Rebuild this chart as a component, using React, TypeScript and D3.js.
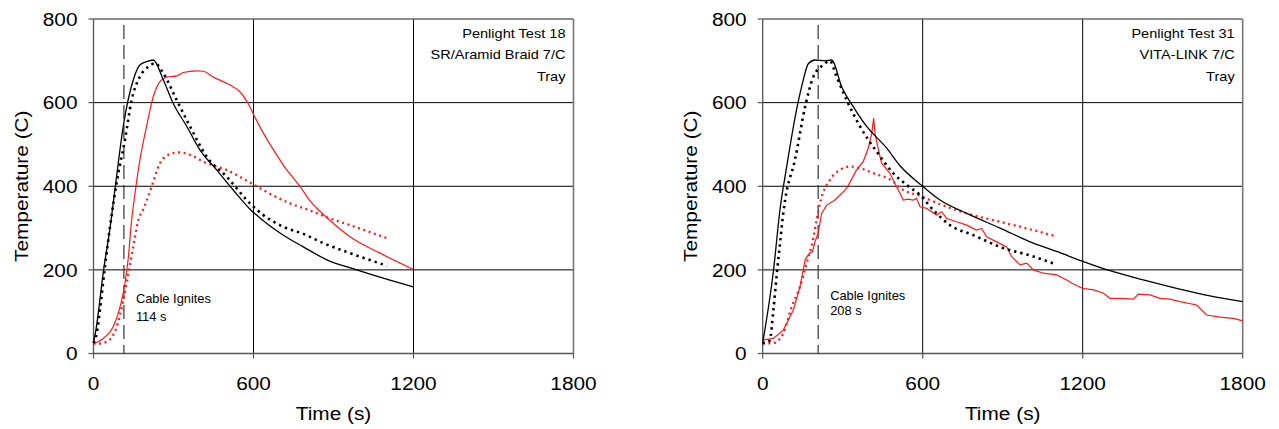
import React from "react";
import * as d3 from "d3";

// ---------- data (time s, temperature C) ----------
const xTicks = [0, 600, 1200, 1800];
const yTicks = [0, 200, 400, 600, 800];

const leftTitle = ["Penlight Test 18", "SR/Aramid Braid 7/C", "Tray"];
const rightTitle = ["Penlight Test 31", "VITA-LINK 7/C", "Tray"];
const leftIgnite = 114;
const rightIgnite = 208;

const t18BlackSolid: [number, number][] = [
  [0, 25], [10, 60], [37, 196], [62, 300], [80, 390], [112, 545], [149, 654], [174, 690],
  [199, 698], [224, 702], [262, 654], [299, 598], [350, 543], [399, 487], [462, 439],
  [524, 391], [587, 345], [650, 311], [712, 283], [787, 255], [875, 224], [987, 200],
  [1087, 180], [1200, 159],
];
const t18BlackDotted: [number, number][] = [
  [0, 25], [12, 48], [24, 104], [43, 208], [62, 303], [90, 420], [118, 511], [143, 606],
  [174, 662], [206, 686], [231, 694], [262, 670], [312, 606], [362, 543], [424, 471],
  [499, 423], [587, 359], [637, 331], [712, 303], [787, 286], [862, 264], [962, 240],
  [1100, 210],
];
const t18RedSolid: [number, number][] = [
  [0, 24], [37, 36], [74, 64], [106, 128], [118, 168], [131, 232], [143, 319], [149, 350],
  [174, 463], [199, 543], [224, 614], [249, 650], [274, 661], [312, 664], [337, 672],
  [387, 676], [412, 675], [449, 661], [512, 642], [549, 626], [580, 598], [600, 572],
  [637, 527], [662, 500], [687, 475], [712, 450], [749, 420], [774, 400], [812, 365],
  [837, 348], [887, 318], [962, 279], [1074, 240], [1200, 201],
];
const t18RedDotted: [number, number][] = [
  [0, 24], [12, 23], [49, 28], [87, 64], [112, 128], [131, 192], [149, 255], [168, 319],
  [187, 345], [199, 365], [218, 399], [249, 455], [287, 477], [324, 481], [362, 475],
  [424, 455], [499, 439], [587, 409], [662, 382], [737, 359], [812, 342], [887, 323],
  [962, 307], [1100, 276],
];

const t31BlackSolid: [number, number][] = [
  [0, 25], [40, 196], [65, 345], [90, 447], [127, 583], [152, 654], [171, 693], [196, 702],
  [234, 700], [259, 702], [296, 638], [340, 590], [390, 543], [465, 491], [515, 449],
  [598, 401], [665, 367], [765, 335], [890, 300], [1015, 264], [1115, 241], [1198, 221],
  [1302, 198], [1427, 176], [1552, 156], [1677, 138], [1800, 124],
];
const t31BlackDotted: [number, number][] = [
  [0, 25], [15, 25], [27, 32], [40, 104], [52, 184], [65, 264], [77, 335], [84, 367],
  [121, 463], [159, 590], [190, 662], [227, 690], [252, 700], [277, 662], [315, 606],
  [365, 543], [427, 483], [490, 431], [540, 403], [590, 379], [640, 343], [702, 307],
  [790, 283], [890, 255], [1015, 232], [1100, 213],
];
const t31RedSolid: [number, number][] = [
  [0, 32], [10, 33], [40, 36], [77, 56], [115, 104], [140, 160], [159, 224], [175, 240],
  [187, 244], [196, 267], [208, 288], [221, 335], [240, 355], [271, 367], [315, 395],
  [352, 439], [377, 459], [396, 491], [409, 527], [416, 563], [421, 527], [434, 487],
  [446, 455], [477, 431], [502, 399], [515, 383], [527, 367], [545, 369], [565, 367],
  [577, 371], [590, 351], [615, 347], [652, 331], [671, 339], [690, 323], [727, 315],
  [765, 307], [802, 295], [821, 299], [840, 279], [877, 267], [915, 255], [933, 232],
  [965, 212], [990, 216], [1015, 200], [1052, 192], [1102, 188], [1140, 176], [1160, 168],
  [1198, 156], [1241, 152], [1278, 144], [1302, 132], [1340, 132], [1390, 130], [1409, 142],
  [1452, 140], [1490, 132], [1527, 130], [1565, 124], [1627, 116], [1665, 92], [1715, 87],
  [1765, 84], [1800, 78],
];
const t31RedDotted: [number, number][] = [
  [0, 24], [40, 25], [77, 48], [109, 112], [140, 160], [165, 216], [190, 276], [202, 319],
  [215, 360], [252, 415], [290, 439], [327, 447], [365, 443], [415, 431], [490, 411],
  [515, 396], [590, 377], [690, 351], [765, 335], [890, 315], [1015, 295], [1100, 280],
];

// ---------- drawing ----------
const FONT = "'Liberation Sans', Arial, Helvetica, sans-serif";
const SX = 1.12;

type TxtProps = {
  x: number; y: number; size: number; anchor?: "start" | "middle" | "end";
  rotate?: number; stretch?: number; children: React.ReactNode; fill?: string;
};
function Txt({ x, y, size, anchor = "start", rotate = 0, stretch = SX, children, fill = "#000" }: TxtProps) {
  return (
    <g transform={`translate(${x},${y}) rotate(${rotate}) scale(${stretch},1)`}>
      <text x={0} y={0} fontSize={size} fontFamily={FONT} textAnchor={anchor} fill={fill}>
        {children}
      </text>
    </g>
  );
}

type PanelProps = {
  x0: number;
  title: string[];
  ignite: number;
  igniteLabelDy: number;
  blackSolid: [number, number][];
  blackDotted: [number, number][];
  redSolid: [number, number][];
  redDotted: [number, number][];
  redLinear: boolean;
};

function Panel({ x0, title, ignite, igniteLabelDy, blackSolid, blackDotted, redSolid, redDotted, redLinear }: PanelProps) {
  const x = d3.scaleLinear().domain([0, 1800]).range([x0, x0 + 480]);
  const y = d3.scaleLinear().domain([0, 800]).range([353.5, 19]);
  const smooth = d3.line<[number, number]>().x((d) => x(d[0])).y((d) => y(d[1])).curve(d3.curveMonotoneX);
  const lin = d3.line<[number, number]>().x((d) => x(d[0])).y((d) => y(d[1]));
  const [X0, X1] = x.range();
  const [Y0, Y1] = y.range();
  const cx = (X0 + X1) / 2;
  return (
    <g>
      {/* grid */}
      {yTicks.slice(1, -1).map((t) => (
        <line key={"gy" + t} x1={X0} x2={X1} y1={y(t)} y2={y(t)} stroke="#000" strokeWidth={1} />
      ))}
      {xTicks.slice(1, -1).map((t) => (
        <line key={"gx" + t} x1={x(t)} x2={x(t)} y1={Y1} y2={Y0} stroke="#000" strokeWidth={1} />
      ))}
      {/* frame */}
      <line x1={X0} x2={X1} y1={Y1} y2={Y1} stroke="#666" strokeWidth={1.3} />
      <line x1={X1} x2={X1} y1={Y1} y2={Y0} stroke="#777" strokeWidth={1.6} />
      <line x1={X0} x2={X0} y1={Y1} y2={Y0} stroke="#555" strokeWidth={1.3} />
      <line x1={X0} x2={X1} y1={Y0} y2={Y0} stroke="#555" strokeWidth={1.3} />
      {/* ticks */}
      {yTicks.map((t) => (
        <g key={"ty" + t}>
          <line x1={X0 - 5} x2={X0} y1={y(t)} y2={y(t)} stroke="#555" strokeWidth={1.2} />
          <Txt x={X0 - 16} y={y(t) + 6.7} size={18.6} anchor="end">{t}</Txt>
        </g>
      ))}
      {xTicks.map((t) => (
        <g key={"tx" + t}>
          <line x1={x(t)} x2={x(t)} y1={Y0} y2={Y0 + 5} stroke="#555" strokeWidth={1.2} />
          <Txt x={x(t)} y={390} size={18.6} anchor="middle">{t}</Txt>
        </g>
      ))}
      {/* axis titles */}
      <Txt x={cx} y={420} size={18.6} anchor="middle">Time (s)</Txt>
      <Txt x={X0 - 66} y={(Y0 + Y1) / 2} size={18.6} anchor="middle" rotate={-90}>Temperature (C)</Txt>
      {/* ignition line */}
      <line x1={x(ignite)} x2={x(ignite)} y1={25} y2={Y0} stroke="#333" strokeWidth={1.2} strokeDasharray="14 6" />
      <Txt x={x(ignite) + 12} y={300 + igniteLabelDy} size={12.5} stretch={1.03}>Cable Ignites</Txt>
      <Txt x={x(ignite) + 12} y={315 + igniteLabelDy * 2} size={12.5} stretch={1.03}>{`${ignite} s`}</Txt>
      {/* legend text */}
      {title.map((s, i) => (
        <Txt key={s} x={X1 - 8} y={37.7 + i * 21.7} size={13} anchor="end">{s}</Txt>
      ))}
      {/* series */}
      <path d={smooth(redDotted) || ""} fill="none" stroke="#ff1a1a" strokeWidth={2.3} strokeDasharray="2 3.6" />
      <path d={(redLinear ? lin(redSolid) : smooth(redSolid)) || ""} fill="none" stroke="#ff1a1a" strokeWidth={1.2} />
      <path d={smooth(blackDotted) || ""} fill="none" stroke="#000" strokeWidth={2.6} strokeDasharray="2.4 4" />
      <path d={smooth(blackSolid) || ""} fill="none" stroke="#000" strokeWidth={1.3} />
    </g>
  );
}

export default function App() {
  return (
    <svg width={1279} height={429} style={{ position: "absolute", left: 0, top: 0, background: "#fff" }}>
      <rect width={1279} height={429} fill="#fff" />
      <Panel x0={93.5} title={leftTitle} ignite={leftIgnite} igniteLabelDy={3}
        blackSolid={t18BlackSolid} blackDotted={t18BlackDotted} redSolid={t18RedSolid} redDotted={t18RedDotted} redLinear={false} />
      <Panel x0={762.7} title={rightTitle} ignite={rightIgnite} igniteLabelDy={0}
        blackSolid={t31BlackSolid} blackDotted={t31BlackDotted} redSolid={t31RedSolid} redDotted={t31RedDotted} redLinear={true} />
    </svg>
  );
}
